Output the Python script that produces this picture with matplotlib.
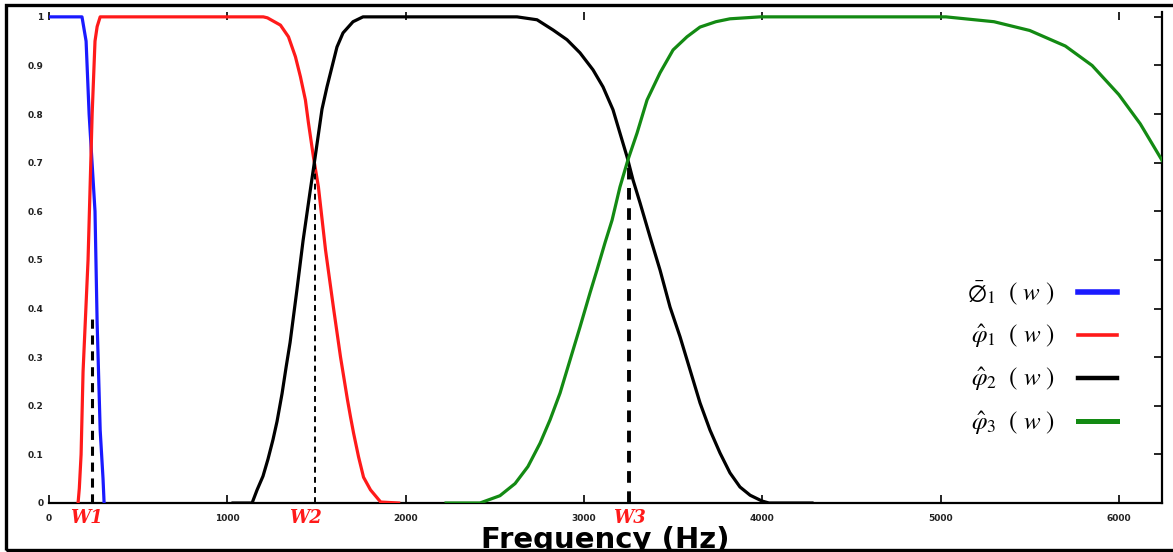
import matplotlib
matplotlib.use("Agg")
import matplotlib.pyplot as plt
from matplotlib.lines import Line2D
from matplotlib.patches import Rectangle
import matplotlib.transforms as mtransforms

plt.rcParams["mathtext.fontset"] = "stix"

# ---- data (frequency in Hz, magnitude 0..1) ----
blue_hz = [0, 185, 208, 225, 258, 270, 287, 303, 309]
blue_val = [1.0, 1.0, 0.95, 0.80, 0.60, 0.37, 0.15, 0.05, 0.0]

red_hz = [163, 170, 180, 191, 219, 242, 258, 270, 287, 1202, 1225, 1298, 1343,
          1382, 1410, 1438, 1455, 1483, 1511, 1551, 1596, 1635, 1674, 1691,
          1708, 1736, 1764, 1803, 1860, 1961]
red_val = [0.0, 0.03, 0.10, 0.27, 0.50, 0.80, 0.95, 0.98, 1.0, 1.0, 0.998,
           0.983, 0.959, 0.918, 0.877, 0.829, 0.782, 0.712, 0.650, 0.52, 0.40,
           0.30, 0.212, 0.177, 0.144, 0.095, 0.053, 0.027, 0.002, 0.0]

black_hz = [1032, 1139, 1167, 1200, 1228, 1256, 1279, 1307, 1330, 1352, 1391,
            1425, 1464, 1492, 1531, 1559, 1587, 1615, 1649, 1705, 1761, 2625,
            2737, 2827, 2905, 2978, 3051, 3107, 3163, 3202, 3242, 3275, 3315,
            3371, 3427, 3483, 3539, 3595, 3651, 3707, 3763, 3819, 3875, 3932,
            3999, 4038, 4279]
black_val = [0.0, 0.0, 0.027, 0.055, 0.09, 0.13, 0.168, 0.225, 0.28, 0.33, 0.44,
             0.54, 0.64, 0.71, 0.81, 0.856, 0.897, 0.938, 0.967, 0.99, 1.0, 1.0,
             0.994, 0.973, 0.953, 0.926, 0.891, 0.856, 0.809, 0.761, 0.712, 0.665,
             0.617, 0.547, 0.479, 0.403, 0.342, 0.274, 0.206, 0.150, 0.103, 0.062,
             0.033, 0.016, 0.004, 0.0, 0.0]

green_hz = [0, 2227, 2417, 2529, 2614, 2686, 2754, 2810, 2866, 2922, 2978, 3034,
            3073, 3118, 3158, 3202, 3247, 3298, 3354, 3427, 3500, 3578, 3651,
            3740, 3819, 3988, 5030, 5300, 5500, 5700, 5850, 6000, 6120, 6242]
green_val = [0.0, 0.0, 0.0, 0.015, 0.04, 0.075, 0.123, 0.171, 0.226, 0.294,
             0.362, 0.432, 0.479, 0.535, 0.582, 0.650, 0.706, 0.761, 0.829, 0.885,
             0.932, 0.959, 0.979, 0.99, 0.996, 1.0, 1.0, 0.99, 0.972, 0.94, 0.90,
             0.84, 0.78, 0.705]

# band edges and crossover heights
edge_names = ["W1", "W2", "W3"]
edge_hz = [240, 1494, 3253]
edge_top = [0.38, 0.70, 0.70]

# zero-level stretch of the first band's trace
red_zero_hz = [2417, 4000]

x_ticks = [0, 1000, 2000, 3000, 4000, 5000, 6000]
y_ticks = [0, 0.1, 0.2, 0.3, 0.4, 0.5, 0.6, 0.7, 0.8, 0.9, 1.0]
y_tick_labels = ["0", "0.1", "0.2", "0.3", "0.4", "0.5", "0.6", "0.7", "0.8", "0.9", "1"]

legend_labels = [r"$\bar{\emptyset}_1\ \ (\ w\ )$", r"$\hat{\varphi}_1\ \ (\ w\ )$",
                 r"$\hat{\varphi}_2\ \ (\ w\ )$", r"$\hat{\varphi}_3\ \ (\ w\ )$"]

BLUE = "#1a1aff"
RED = "#ff1a1a"
BLACK = "#000000"
GREEN = "#138a13"

W, H = 1173, 552
fig = plt.figure(figsize=(W / 100, H / 100), dpi=100)
ax = fig.add_axes([49 / W, 1 - 503 / H, (1162 - 49) / W, (503 - 12) / H])

ax.set_xlim(0, 6242)
ax.set_ylim(0, 1.01)

# curves
ax.plot(green_hz[:2], green_val[:2], color=GREEN, lw=1.3, solid_capstyle="butt", zorder=2)
ax.plot(red_zero_hz, [0, 0], color=RED, lw=1.3, zorder=2)
ax.plot(blue_hz, blue_val, color=BLUE, lw=2.3, zorder=3)
ax.plot(red_hz, red_val, color=RED, lw=2.3, zorder=3)
ax.plot(black_hz, black_val, color=BLACK, lw=2.3, zorder=3)
ax.plot(green_hz[1:], green_val[1:], color=GREEN, lw=2.3, zorder=3)

# band-edge markers
edge_lw = [2.2, 1.4, 2.8]
for hz, top, lw in zip(edge_hz, edge_top, edge_lw):
    ax.plot([hz, hz], [0, top], color="black", lw=lw, ls=(0, (3, 2.2)), zorder=4)

trans = mtransforms.blended_transform_factory(ax.transData, ax.transAxes)
edge_offsets = [-5, -10, 0]
for name, hz, off in zip(edge_names, edge_hz, edge_offsets):
    ax.text(hz + off / 0.1783, -0.012, name, transform=trans, ha="center", va="top",
            color=RED, fontsize=13, fontstyle="italic", fontweight="bold",
            family="DejaVu Serif")

# axes styling
for side in ("left", "top"):
    ax.spines[side].set_visible(False)
for side in ("right", "bottom"):
    ax.spines[side].set_linewidth(1.6)

ax.set_xticks(x_ticks)
ax.set_xticklabels([str(t) for t in x_ticks])
ax.set_yticks(y_ticks)
ax.set_yticklabels(y_tick_labels)
ax.tick_params(axis="x", direction="in", top=True, bottom=True, length=6, width=1.2,
               pad=8, labelsize=6.5, labelcolor="#222222")
ax.tick_params(axis="y", direction="in", left=False, right=True, length=6, width=1.2,
               pad=4, labelsize=6.5, labelcolor="#222222")
for lab in ax.get_xticklabels() + ax.get_yticklabels():
    lab.set_fontweight("bold")

ax.set_xlabel("Frequency (Hz)", fontsize=21, fontweight="bold", labelpad=2)

handles = [Line2D([], [], color=BLUE, lw=4.0), Line2D([], [], color=RED, lw=2.6),
           Line2D([], [], color=BLACK, lw=3.2), Line2D([], [], color=GREEN, lw=3.6)]
ax.legend(handles, legend_labels, loc="center right", bbox_to_anchor=(0.9596, 0.295),
          frameon=False, markerfirst=False, fontsize=18, handlelength=1.55,
          handletextpad=0.95, labelspacing=0.62, borderpad=0, borderaxespad=0)

# outer frame
fig.patches.append(Rectangle((5.5 / W, 1 - 549.5 / H), 1.2, (549.5 - 5) / H,
                             transform=fig.transFigure, fill=False, lw=2.4,
                             edgecolor="black", clip_on=False, zorder=10))

fig.savefig("out.png", dpi=100)
